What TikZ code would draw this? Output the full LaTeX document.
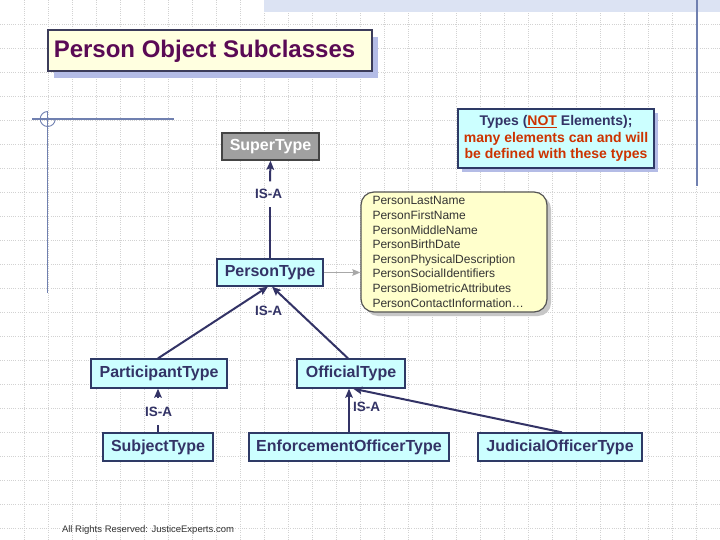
\documentclass[tikz,border=0pt]{standalone}
\usepackage{fontspec}
\setmainfont{Liberation Sans}
\usetikzlibrary{arrows.meta,shadows}
\definecolor{navy}{HTML}{333366}
\definecolor{boxborder}{HTML}{2E3A66}
\definecolor{cyanfill}{HTML}{CCFFFF}
\definecolor{gridcol}{HTML}{D2D2D2}
\definecolor{bandcol}{HTML}{DCE3F3}
\definecolor{markcol}{HTML}{7080B0}
\definecolor{titlefill}{HTML}{FFFFE0}
\definecolor{titleborder}{HTML}{3C3C5A}
\definecolor{titletext}{HTML}{5A0A55}
\definecolor{lavshadow}{HTML}{B4BCE6}
\definecolor{notered}{HTML}{CC3300}
\definecolor{attrfill}{HTML}{FFFFCC}
\definecolor{attrborder}{HTML}{555555}
\definecolor{attrtext}{HTML}{333333}
\definecolor{supfill}{HTML}{A0A0A0}
\definecolor{arrowgray}{HTML}{A8A8A8}
\tikzset{
  gridline/.style={gridcol, line width=0.55pt, dash pattern=on 0.9pt off 1.3pt},
  typebox/.style={draw=boxborder, line width=1.3pt, fill=cyanfill, text=navy,
    font=\bfseries\fontsize{16}{18}\selectfont, inner sep=0pt},
  isalabel/.style={text=navy, font=\bfseries\fontsize{13.5}{16}\selectfont,
    text height=9.7pt, text depth=0pt, inner xsep=1pt},
  isarrow/.style={draw=navy, line width=2pt, -{Stealth[length=9pt,width=7.5pt,inset=1.5pt]}},
  isline/.style={draw=navy, line width=2pt},
  grayarrow/.style={draw=arrowgray, line width=1.5pt, -{Stealth[length=8pt,width=6.5pt,inset=1pt]}},
}
\begin{document}
\begin{tikzpicture}[x=1pt,y=-1pt]
\useasboundingbox (0,0) rectangle (720,540);
\fill[white] (0,0) rectangle (720,540);
% grid
\foreach \gx in {24,48,...,696} \draw[gridline] (\gx,0) -- (\gx,540);
\foreach \gy in {24,48,...,528} \draw[gridline] (0,\gy) -- (720,\gy);
% top band and side line
\fill[bandcol] (264,0) rectangle (720,12.5);
\draw[markcol, line width=1.2pt] (697,0) -- (697,186);
% corner mark
\draw[markcol, line width=1.1pt] (32,119) -- (174,119);
\draw[markcol, line width=1.1pt] (47.7,111.5) -- (47.7,293);
\draw[markcol, line width=0.9pt] (47.7,111.5) arc[start angle=-90, end angle=-360, radius=7.5];
% title
\node[draw=titleborder, line width=2pt, fill=titlefill, text=titletext,
  font=\bfseries\fontsize{24}{28}\selectfont, minimum width=324pt, minimum height=41pt, inner sep=0pt,
  drop shadow={shadow xshift=6pt, shadow yshift=-7pt, fill=lavshadow, opacity=1}]
  (title) at (209.5,51) {Person Object Subclasses\hspace*{10pt}};
% type boxes
\node[draw=attrborder!80!black, line width=1.3pt, fill=supfill, text=white,
  font=\bfseries\fontsize{16}{18}\selectfont, inner sep=0pt,
  minimum width=97pt, minimum height=27pt] (st) at (270.5,146.5) {SuperType};
\node[typebox, minimum width=106pt, minimum height=27pt] (pt) at (270,272.5) {PersonType};
\node[typebox, minimum width=136pt, minimum height=29pt] (part) at (159,373.5) {ParticipantType};
\node[typebox, minimum width=108pt, minimum height=29pt] (off) at (351,373.5) {OfficialType};
\node[typebox, minimum width=110pt, minimum height=28pt] (subj) at (158,447) {SubjectType};
\node[typebox, minimum width=200pt, minimum height=28pt] (enf) at (349,447) {EnforcementOfficerType};
\node[typebox, minimum width=164pt, minimum height=28pt] (jud) at (560,447) {JudicialOfficerType};
% note
\node[draw=boxborder, line width=1.3pt, fill=cyanfill, minimum width=196pt, minimum height=59pt,
  inner sep=0pt, align=center, font=\bfseries\fontsize{14}{16.5}\selectfont,
  drop shadow={shadow xshift=4pt, shadow yshift=-4pt, fill=lavshadow, opacity=1}]
  (note) at (556,138.5) {{\color{navy}Types (\textcolor{notered}{\underline{NOT}}\ Elements);}\\
  \textcolor{notered}{many elements can and will}\\ \textcolor{notered}{be defined with these types}};
% attributes
\node[draw=attrborder, line width=1.2pt, fill=attrfill, rounded corners=13pt,
  minimum width=186pt, minimum height=120pt, text width=163pt, inner xsep=11.5pt, inner ysep=0pt,
  align=left, text=attrtext, font=\fontsize{12}{14.6}\selectfont,
  drop shadow={shadow xshift=4pt, shadow yshift=-4pt, fill=black!22, opacity=1}]
  (attr) at (454,252) {PersonLastName\\ PersonFirstName\\ PersonMiddleName\\ PersonBirthDate\\
  PersonPhysicalDescription\\ PersonSocialIdentifiers\\ PersonBiometricAttributes\\ PersonContactInformation\ldots};
% labels
\node[isalabel, inner ysep=7.5pt] (isa1) at (268.5,194) {IS-A};
\node[isalabel, inner ysep=2pt] (isa2) at (268.5,311) {IS-A};
\node[isalabel, inner ysep=8pt] (isa3) at (158.5,411.5) {IS-A};
\node[isalabel, inner ysep=2pt, anchor=west] (isa4) at (352,406.5) {IS-A};
% connectors
\draw[isline] (pt.north) -- (pt.north |- isa1.south);
\draw[isarrow] (pt.north |- isa1.north) -- (st.south);
\draw[isarrow] ([xshift=-1pt]part.north) -- ([xshift=-2pt]pt.south);
\draw[isarrow] ([xshift=-3pt]off.north) -- ([xshift=2pt]pt.south);
\draw[isline] (subj.north) -- (subj.north |- isa3.south);
\draw[isarrow] (subj.north |- isa3.north) -- (subj.north |- part.south);
\draw[isarrow] (enf.north) -- (enf.north |- off.south);
\draw[isarrow] ([xshift=2pt]jud.north) -- ([xshift=2pt]off.south);
\draw[grayarrow] (pt.east) -- (pt.east -| attr.west);
% footer
\node[text=attrtext, font=\fontsize{9.5}{11}\selectfont, inner sep=0pt] (footer) at (148,530) {All Rights Reserved: JusticeExperts.com};
\end{tikzpicture}
\end{document}
